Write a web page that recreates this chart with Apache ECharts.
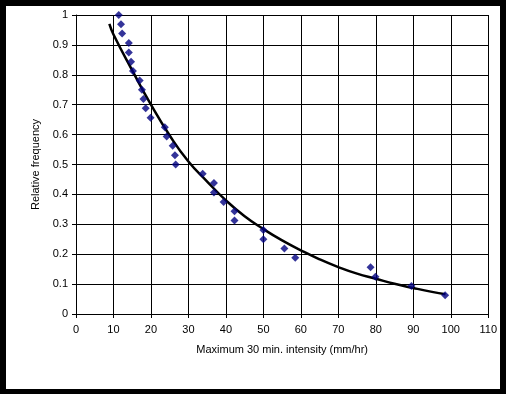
<!DOCTYPE html>
<html>
<head>
<meta charset="utf-8">
<script src="https://cdn.jsdelivr.net/npm/echarts@6/dist/echarts.min.js"></script>
<style>
html,body{margin:0;padding:0;background:#000;width:506px;height:394px;overflow:hidden;}
#c{position:absolute;left:6px;top:6px;width:494px;height:383px;background:#fff;}
</style>
</head>
<body>
<div id="c"></div>
<script>
// Observed points: maximum 30-min intensity (mm/hr) and relative frequency
var intensity = [11.4, 12.0, 12.3, 14.1, 14.1, 14.7, 15.2, 17.0, 17.6, 18.0, 18.6, 19.9, 23.7, 24.2, 25.8, 26.4, 26.6, 33.8, 36.8, 36.8, 39.4, 42.3, 42.3, 50.0, 50.0, 55.6, 58.5, 78.6, 79.9, 89.5, 98.5];
var relFreq   = [1.000, 0.969, 0.938, 0.906, 0.875, 0.844, 0.813, 0.781, 0.750, 0.719, 0.688, 0.656, 0.625, 0.594, 0.563, 0.531, 0.500, 0.469, 0.438, 0.406, 0.375, 0.344, 0.313, 0.281, 0.250, 0.219, 0.188, 0.156, 0.125, 0.094, 0.063];
// Trend curve
var trendX = [8.9, 10, 15, 20, 25, 30, 35, 40, 45, 50, 55, 60, 65, 70, 75, 80, 85, 90, 95, 98.6];
var trendY = [0.970, 0.935, 0.815, 0.700, 0.597, 0.510, 0.443, 0.380, 0.327, 0.284, 0.246, 0.213, 0.183, 0.157, 0.135, 0.118, 0.101, 0.087, 0.074, 0.066];
var xTitle = 'Maximum 30 min. intensity (mm/hr)';
var yTitle = 'Relative frequency';

var pts = intensity.map(function(x,i){return [x, relFreq[i]];});
var trend = trendX.map(function(x,i){return [x, trendY[i]];});
var font = "'Liberation Sans', Arial, sans-serif";

var chart = echarts.init(document.getElementById('c'), null, {renderer:'canvas'});
chart.setOption({
  animation:false,
  backgroundColor:'#fff',
  grid:{left:70, top:9, right:11, bottom:75, containLabel:false},
  xAxis:{
    type:'value', min:0, max:110, interval:10,
    name:xTitle, nameLocation:'middle', nameGap:30,
    nameTextStyle:{color:'#000', fontFamily:font, fontSize:11},
    axisLine:{show:true, onZero:false, lineStyle:{color:'#000', width:1}},
    axisTick:{show:true, length:4, lineStyle:{color:'#000'}},
    axisLabel:{color:'#000', fontFamily:font, fontSize:11, margin:10},
    splitLine:{show:true, lineStyle:{color:'#000', width:1}}
  },
  yAxis:{
    type:'value', min:0, max:1, interval:0.1,
    name:yTitle, nameLocation:'middle', nameGap:33, nameRotate:90,
    nameTextStyle:{color:'#000', fontFamily:font, fontSize:11},
    axisLine:{show:true, lineStyle:{color:'#000', width:1}},
    axisTick:{show:true, length:4, lineStyle:{color:'#000'}},
    axisLabel:{color:'#000', fontFamily:font, fontSize:11, margin:8,
      formatter:function(v){return String(+v.toFixed(1));}},
    splitLine:{show:true, lineStyle:{color:'#000', width:1}}
  },
  series:[
    {type:'line', data:trend, smooth:true, symbol:'none',
     lineStyle:{color:'#000', width:2.5}, z:2},
    {type:'scatter', data:pts, symbol:'diamond', symbolSize:8,
     itemStyle:{color:'#000080'}, z:3}
  ]
});
</script>
</body>
</html>
